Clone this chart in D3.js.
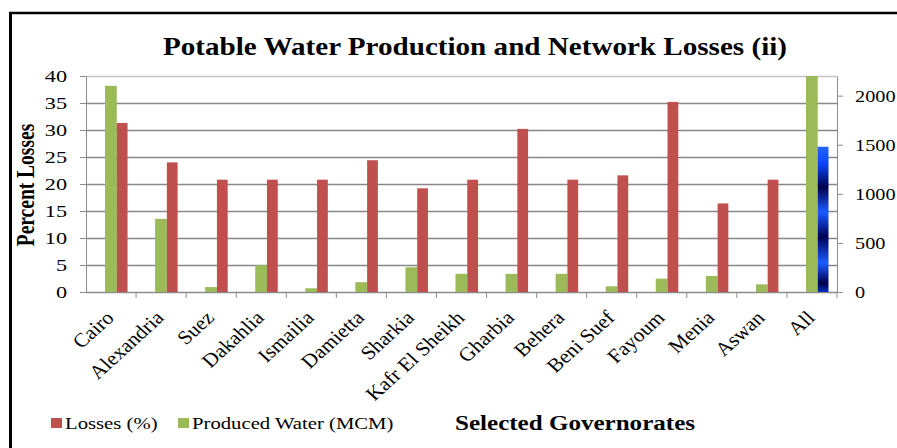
<!DOCTYPE html>
<html>
<head>
<meta charset="utf-8">
<script src="https://cdn.jsdelivr.net/npm/d3@7"></script>
<style>
  html, body { margin: 0; padding: 0; background: #fff; }
  svg { display: block; }
  svg text { font-family: "Liberation Serif", "Times New Roman", serif; fill: #000; }
</style>
</head>
<body>
<svg id="chart" width="897" height="448"></svg>
<script>
// Governorates along the x axis
const categories = ["Cairo", "Alexandria", "Suez", "Dakahlia", "Ismailia", "Damietta", "Sharkia",
  "Kafr El Sheikh", "Gharbia", "Behera", "Beni Suef", "Fayoum", "Menia", "Aswan", "All"];
// Network losses, percent (left axis)
const lossesPct = [31.3, 24.0, 20.8, 20.8, 20.8, 24.4, 19.2, 20.8, 30.2, 20.8, 21.6, 35.2, 16.4, 20.8, 26.9];
// Produced water, million cubic metres (right axis)
const producedMCM = [2100, 745, 50, 272, 38, 100, 252, 185, 185, 185, 58, 136, 163, 78, 2200];
// Axis ticks
const leftTicks = [0, 5, 10, 15, 20, 25, 30, 35, 40];
const rightTicks = [0, 500, 1000, 1500, 2000];

const SX = 1.27;   // horizontal stretch of the serif labels
const SXR = 1.16;  // stretch of the right axis numbers
const SXL = 1.1;   // stretch of the slanted category labels
const svg = d3.select("#chart");
const plot = { left: 86, right: 837, top: 76, bottom: 292 };

const x = d3.scaleBand().domain(categories).range([plot.left, plot.right]).padding(0);
const yL = d3.scaleLinear().domain([0, 40]).range([plot.bottom, plot.top]);
const yR = d3.scaleLinear().domain([0, 2200]).range([plot.bottom, plot.top]);
const bw = x.bandwidth();

// Outer frame (left and top edges)
svg.append("line").attr("x1", 10.5).attr("x2", 10.5).attr("y1", 12).attr("y2", 448)
  .attr("stroke", "#000").attr("stroke-width", 3);
svg.append("line").attr("x1", 9).attr("x2", 897).attr("y1", 13).attr("y2", 13)
  .attr("stroke", "#000").attr("stroke-width", 2.5);

// Title
svg.append("text").attr("x", 163).attr("y", 55)
  .attr("font-size", 26).attr("font-weight", "bold")
  .attr("textLength", 624).attr("lengthAdjust", "spacingAndGlyphs")
  .text("Potable Water Production and Network Losses (ii)");

// Horizontal gridlines
svg.append("g").attr("transform", `translate(${plot.left},0)`)
  .call(d3.axisLeft(yL).tickValues(leftTicks.slice(1)).tickSize(-(plot.right - plot.left)).tickFormat(""))
  .call(g => g.select(".domain").remove())
  .call(g => g.selectAll(".tick line").attr("stroke", d => d === 40 ? "#c4c4c4" : "#878787").attr("stroke-width", 1.4));

// Left axis
svg.append("g").attr("transform", `translate(${plot.left},0)`)
  .call(d3.axisLeft(yL).tickValues(leftTicks).tickSize(6).tickSizeOuter(0))
  .call(g => g.select(".domain").attr("stroke", "#8c8c8c"))
  .call(g => g.selectAll(".tick line").attr("stroke", "#8c8c8c"))
  .call(g => g.selectAll(".tick text")
    .attr("x", -(plot.left - 67) / SX).attr("dy", "0.34em")
    .attr("transform", `scale(${SX},1)`)
    .attr("font-size", 17.5));

// Right axis
svg.append("g").attr("transform", `translate(${plot.right},0)`)
  .call(d3.axisRight(yR).tickValues(rightTicks).tickSize(6).tickSizeOuter(0).tickFormat(d3.format("d")))
  .call(g => g.select(".domain").attr("stroke", "#8c8c8c"))
  .call(g => g.selectAll(".tick line").attr("stroke", "#8c8c8c"))
  .call(g => g.selectAll(".tick text")
    .attr("x", (855 - plot.right) / SXR).attr("dy", "0.34em")
    .attr("transform", `scale(${SXR},1)`)
    .attr("font-size", 17.5));

// Category axis line and boundary ticks
svg.append("line").attr("x1", plot.left).attr("x2", plot.right)
  .attr("y1", plot.bottom + 0.5).attr("y2", plot.bottom + 0.5).attr("stroke", "#8c8c8c").attr("stroke-width", 1.3);
svg.append("g").selectAll("line").data(categories).join("line")
  .attr("x1", d => x(d) + bw).attr("x2", d => x(d) + bw)
  .attr("y1", plot.bottom).attr("y2", plot.bottom + 6)
  .attr("stroke", "#8c8c8c");

// Gradient for the "All" losses bar
const defs = svg.append("defs");
const grad = defs.append("linearGradient").attr("id", "allGrad")
  .attr("x1", 0).attr("x2", 0).attr("y1", 0).attr("y2", 1);
[[0, "#2266ff"], [0.12, "#0a44f5"], [0.28, "#00004e"], [0.45, "#1a5cff"], [0.62, "#000058"],
 [0.8, "#1a5cff"], [0.94, "#000050"], [1, "#0030c0"]]
  .forEach(([o, c]) => grad.append("stop").attr("offset", o).attr("stop-color", c));

const rows = categories.map((c, i) => ({ c, loss: lossesPct[i], prod: producedMCM[i] }));

// Produced water bars (right axis)
svg.append("g").selectAll("rect").data(rows).join("rect")
  .attr("x", d => x(d.c) + bw * 0.38)
  .attr("width", bw * 0.235)
  .attr("y", d => yR(d.prod))
  .attr("height", d => yR(0) - yR(d.prod))
  .attr("fill", "#9bbb59");

// Losses bars (left axis)
svg.append("g").selectAll("rect").data(rows).join("rect")
  .attr("x", d => x(d.c) + bw * 0.615)
  .attr("width", bw * 0.215)
  .attr("y", d => yL(d.loss))
  .attr("height", d => yL(0) - yL(d.loss))
  .attr("fill", d => d.c === "All" ? "url(#allGrad)" : "#c0504d");

// Slanted category labels
svg.append("g").selectAll("text").data(categories).join("text")
  .attr("transform", d => `translate(${x(d) + bw / 2 + 4},319) scale(${SXL},1) rotate(-45)`)
  .attr("text-anchor", "end")
  .attr("font-size", 19.5)
  .text(d => d);

// Left axis title
svg.append("text")
  .attr("transform", `translate(34,185) scale(${SX},1) rotate(-90)`)
  .attr("text-anchor", "middle").attr("font-size", 19.5).attr("font-weight", "bold")
  .text("Percent Losses");

// Legend
const legend = [["Losses (%)", "#c0504d", 51], ["Produced Water (MCM)", "#9bbb59", 178]];
const lg = svg.append("g").selectAll("g").data(legend).join("g");
lg.append("rect").attr("x", d => d[2]).attr("y", 418).attr("width", 11).attr("height", 10).attr("fill", d => d[1]);
lg.append("text")
  .attr("transform", d => `translate(${d[2] + 14},429) scale(${SX},1)`)
  .attr("font-size", 16.3).text(d => d[0]);

// Category axis title
svg.append("text").attr("x", 455).attr("y", 430)
  .attr("font-size", 22).attr("font-weight", "bold")
  .attr("textLength", 240).attr("lengthAdjust", "spacingAndGlyphs")
  .text("Selected Governorates");
</script>
</body>
</html>
